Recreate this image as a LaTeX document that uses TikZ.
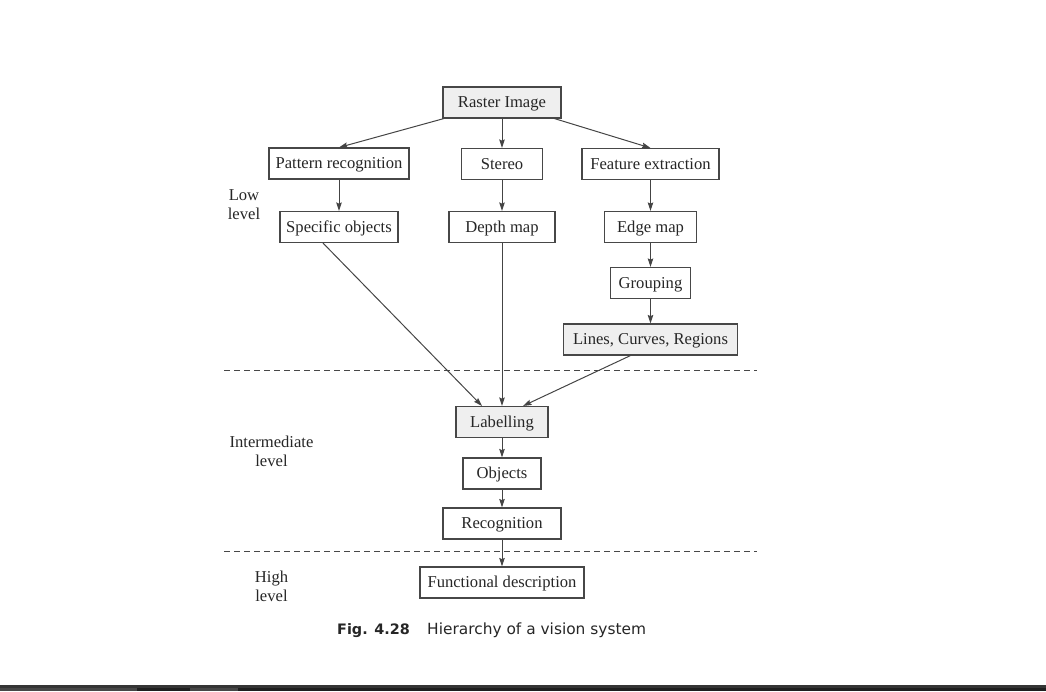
\documentclass[tikz,border=0pt]{standalone}
\usepackage{fontspec}
\setmainfont{Liberation Serif}
\newfontfamily\capfont{DejaVu Sans}
\usetikzlibrary{arrows.meta}
\definecolor{ink}{HTML}{474747}
\definecolor{wire}{HTML}{444444}
\definecolor{txt}{HTML}{262626}
\definecolor{shade}{HTML}{EFEFEF}
\definecolor{barTop}{HTML}{353535}
\definecolor{barDark}{HTML}{1F1F1F}
\definecolor{barLight}{HTML}{474747}
\begin{document}
\begin{tikzpicture}[x=1pt,y=-1pt,
  box/.style={draw=ink, line width=1.1pt, minimum height=31pt, inner sep=2pt,
              text height=12.5pt, text depth=2.5pt, text=txt,
              font=\fontsize{16.6}{19}\selectfont, fill=white},
  greybox/.style={box, fill=shade},
  conn/.style={draw=wire, line width=1pt, -{Stealth[length=8.5pt,width=5.5pt,inset=1.2pt]}},
  lvl/.style={font=\fontsize{16.6}{19}\selectfont, align=center, text=txt},
  sep/.style={draw=ink, line width=0.8pt, dash pattern=on 6pt off 4pt}]
\useasboundingbox (0,0) rectangle (1046,691);

% level separators
\coordinate (s1l) at (224,370);
\coordinate (s1r) at (757,370);
\coordinate (s2l) at (224,551);
\coordinate (s2r) at (757,551);
\draw[sep] (s1l) -- (s1r);
\draw[sep] (s2l) -- (s2r);

% processing stages
\node[greybox, minimum width=118pt] (raster)    at (502,102.5) {Raster Image};
\node[box, minimum width=140pt]     (pattern)   at (339,163.5) {Pattern recognition};
\node[box, minimum width=81pt]      (stereo)    at (502,164)   {Stereo};
\node[box, minimum width=137pt]     (feature)   at (650.5,164) {Feature extraction};
\node[box, minimum width=118pt]     (specific)  at (339,227)   {Specific objects};
\node[box, minimum width=106pt]     (depth)     at (502,227)   {Depth map};
\node[box, minimum width=92pt]      (edgemap)   at (650.5,227) {Edge map};
\node[box, minimum width=80pt]      (grouping)  at (650.5,283) {Grouping};
\node[greybox, minimum width=174pt] (lines)     at (650.5,339.5) {Lines, Curves, Regions};
\node[greybox, minimum width=92pt]  (labelling) at (502,422)   {Labelling};
\node[box, minimum width=78pt]      (objects)   at (502,473.5) {Objects};
\node[box, minimum width=118pt]     (recog)     at (502,523.5) {Recognition};
\node[box, minimum width=164pt]     (func)      at (502,582.5) {Functional description};

% level names
\node[lvl] (low)  at (244,205)    {Low\\level};
\node[lvl] (mid)  at (271.5,451.5) {Intermediate\\level};
\node[lvl] (high) at (271.5,586.5) {High\\level};

% connectors
\draw[conn] (raster) -- (pattern.north);
\draw[conn] (raster) -- (stereo);
\draw[conn] (raster) -- (feature.north);
\draw[conn] (pattern) -- (specific);
\draw[conn] (stereo) -- (depth);
\draw[conn] (feature) -- (edgemap);
\draw[conn] (edgemap) -- (grouping);
\draw[conn] (grouping) -- (lines);
\draw[conn] ([xshift=-16pt]specific.south) -- ([xshift=-20pt]labelling.north);
\draw[conn] (depth) -- (labelling);
\draw[conn] ([xshift=-20pt]lines.south) -- ([xshift=21pt]labelling.north);
\draw[conn] (labelling) -- (objects);
\draw[conn] (objects) -- (recog);
\draw[conn] (recog) -- (func);

% caption
\node[anchor=base west, inner sep=0pt, text=txt, font=\capfont\bfseries\fontsize{14.4}{16}\selectfont] (fig) at (337,634.5) {Fig. 4.28};
\node[anchor=base west, inner sep=0pt, text=txt, font=\capfont\fontsize{15.4}{17}\selectfont] (captext) at (427,634.5) {Hierarchy of a vision system};

% window strip along the lower edge
\fill[barTop]   (0,685) rectangle (1046,688);
\fill[barDark]  (0,688) rectangle (1046,691);
\fill[barLight] (0,688) rectangle (137,691);
\fill[barLight] (190,688) rectangle (238,691);
\end{tikzpicture}
\end{document}
